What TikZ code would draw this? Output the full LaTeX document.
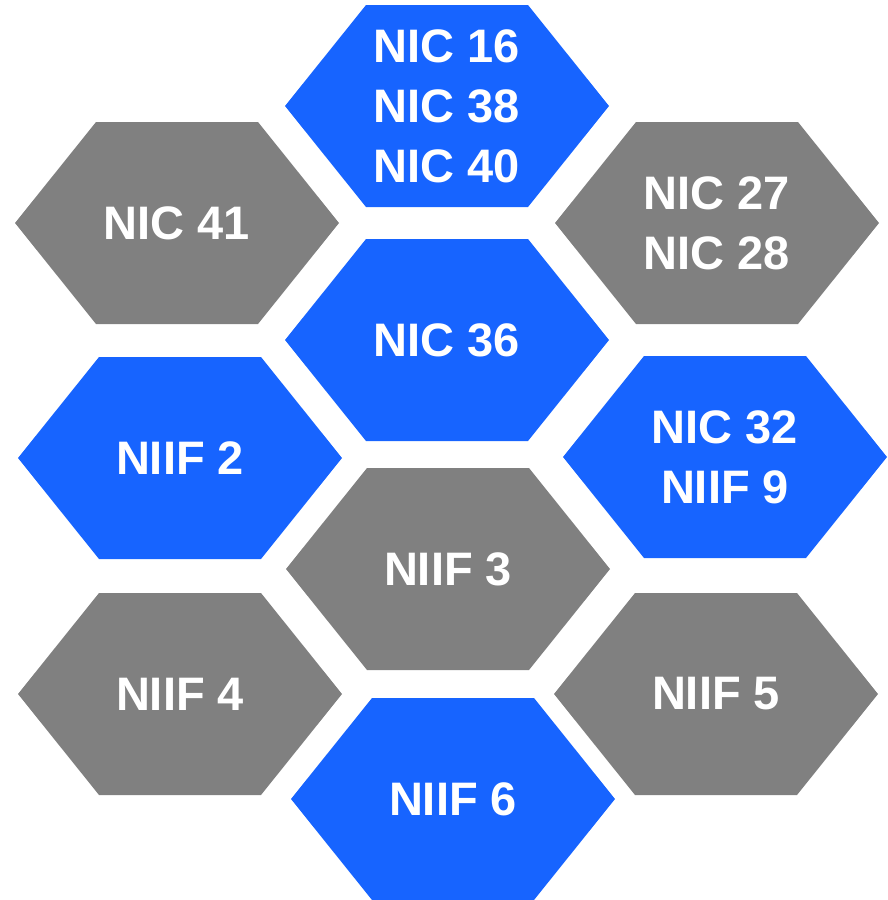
\documentclass[tikz,border=0pt]{standalone}
\usepackage{fontspec}
\setmainfont{Liberation Sans}
\usetikzlibrary{calc}
\definecolor{hexblue}{HTML}{1764FF}
\definecolor{hexgray}{HTML}{808080}
\tikzset{
  hexlabel/.style={text=white, align=center, inner sep=0pt,
    font=\fontsize{47}{60}\selectfont\bfseries},
}
\newcommand\hexcell[5]{%
  \coordinate (#1) at (#2,#3);
  \fill[#4] ($(#1)+(-162,0)$) -- ($(#1)+(-81,-101)$) -- ($(#1)+(81,-101)$)
    -- ($(#1)+(162,0)$) -- ($(#1)+(81,101)$) -- ($(#1)+(-81,101)$) -- cycle;
  \node[hexlabel] (#1-t) at (#1) {#5};
}
\begin{document}
\begin{tikzpicture}[x=1pt,y=-1pt]
\useasboundingbox (0,0) rectangle (888,900);
\hexcell{a}{447}{106}{hexblue}{NIC 16\\NIC 38\\NIC 40}
\hexcell{b}{177}{223}{hexgray}{NIC 41}
\hexcell{c}{717}{223}{hexgray}{NIC 27\\NIC 28}
\hexcell{d}{447}{340}{hexblue}{NIC 36}
\hexcell{e}{180}{458}{hexblue}{NIIF 2}
\hexcell{f}{725}{457}{hexblue}{NIC 32\\NIIF 9}
\hexcell{g}{448}{569}{hexgray}{NIIF 3}
\hexcell{h}{180}{694}{hexgray}{NIIF 4}
\hexcell{i}{716}{694}{hexgray}{NIIF 5}
\hexcell{j}{453}{799}{hexblue}{NIIF 6}
\end{tikzpicture}
\end{document}
